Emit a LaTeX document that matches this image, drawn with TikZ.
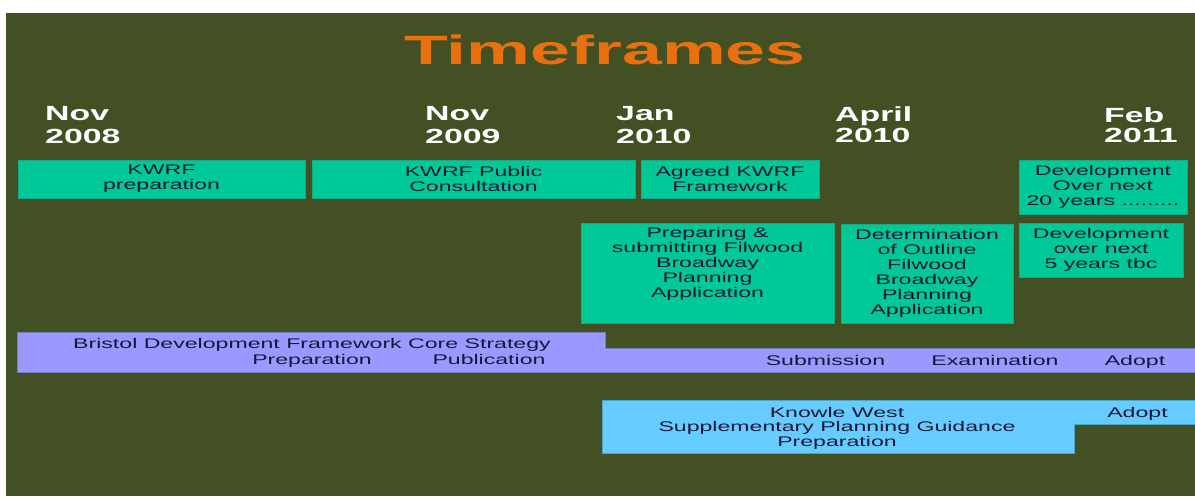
\documentclass[tikz,border=0pt]{standalone}
\usepackage{fontspec}
\setmainfont{Liberation Sans}[FakeStretch=1.65]
\newfontfamily\titlefont{Liberation Sans}[FakeStretch=1.75]
\usetikzlibrary{calc}

\definecolor{slide}{HTML}{435023}
\definecolor{titleorange}{HTML}{E8700F}
\definecolor{kwgreen}{HTML}{00C896}
\definecolor{kwgreenedge}{HTML}{14AA86}
\definecolor{bdfpurple}{HTML}{9999FF}
\definecolor{bdfedge}{HTML}{7A7AC4}
\definecolor{spgblue}{HTML}{66CCFF}
\definecolor{spgedge}{HTML}{4AA4C6}
\definecolor{ink}{HTML}{161838}

\begin{document}
\begin{tikzpicture}[x=1pt,y=-1pt,
  % multi-line nodes sit on the baseline of their last line
  datelabel/.style={anchor=base west, inner sep=0pt, align=left, text=white,
    font=\fontsize{20.5}{23}\selectfont\bfseries},
  gbox/.style={draw=kwgreenedge, line width=0.8pt, fill=kwgreen, inner sep=0pt,
    outer sep=0pt, align=center, text=ink, font=\fontsize{14}{15}\selectfont},
  bartext/.style={anchor=base, inner sep=0pt, text=ink, align=center,
    font=\fontsize{14}{14.5}\selectfont},
]
\useasboundingbox (0,0) rectangle (1195,496);
\fill[white] (0,0) rectangle (1195,496);
\fill[slide] (6,13) rectangle (1195,496);

% title
\node[anchor=base, inner sep=0pt, text=titleorange,
  font=\fontsize{41}{41}\selectfont\titlefont\bfseries] (title) at (605,64) {Timeframes};

% milestone dates
\node[datelabel] (d1) at (45,143) {Nov\\2008};
\node[datelabel] (d2) at (425,143) {Nov\\2009};
\node[datelabel] (d3) at (616,143) {Jan\\2010};
\node[datelabel, font=\fontsize{20.5}{21}\selectfont\bfseries] (d4) at (835,142) {April\\2010};
\node[datelabel, font=\fontsize{20.5}{19.5}\selectfont\bfseries] (d5) at (1104,142) {Feb\\2011};

% KWRF / Filwood boxes
\node[gbox, minimum width=287pt, minimum height=38pt] (kwrfprep) at (161.5,179) {KWRF\\preparation};
\node[gbox, minimum width=323pt, minimum height=38pt] (kwrfcons) at (473.5,179) {KWRF Public\\Consultation};
\node[gbox, minimum width=178pt, minimum height=38pt] (kwrfagreed) at (730,179) {Agreed KWRF\\Framework};
\node[gbox, minimum width=168pt, minimum height=54pt] (dev20) at (1103,187) {Development\\Over next\\20 years .........};

\node[gbox, minimum width=253pt, minimum height=100pt] (filprep) at (707.5,273) {};
\node[inner sep=0pt, align=center, text=ink, font=\fontsize{14}{15}\selectfont] (filpreptext)
  at ($(filprep.center)+(0,-9)$) {Preparing \&\\submitting Filwood\\Broadway\\Planning\\Application};
\node[gbox, minimum width=172pt, minimum height=99pt] (fildet) at (927,273.5)
  {Determination\\of Outline\\Filwood\\Broadway\\Planning\\Application};
\node[gbox, minimum width=164pt, minimum height=54pt] (dev5) at (1101,250) {Development\\over next\\5 years tbc};

% Bristol Development Framework bar
\draw[bdfedge, fill=bdfpurple, line width=0.8pt]
  (17,332) -- (605,332) -- (605,348) -- (1198,348) -- (1198,372) -- (17,372) -- cycle;
\node[bartext] (bdf) at (312,348) {Bristol Development Framework Core Strategy};
\node[bartext] (bdfprep) at (312,364) {Preparation};
\node[bartext] (bdfpub) at (489,364) {Publication};
\node[bartext] (bdfsub) at (825.5,365) {Submission};
\node[bartext] (bdfexam) at (995,365) {Examination};
\node[bartext] (bdfadopt) at (1135,365) {Adopt};

% Knowle West SPG bar
\draw[spgedge, fill=spgblue, line width=0.8pt]
  (602,400) -- (1198,400) -- (1198,424) -- (1074,424) -- (1074,453) -- (602,453) -- cycle;
\node[bartext] (spg) at (837,446) {Knowle West\\Supplementary Planning Guidance\\Preparation};
\node[bartext] (spgadopt) at (1137.5,417) {Adopt};
\end{tikzpicture}
\end{document}
